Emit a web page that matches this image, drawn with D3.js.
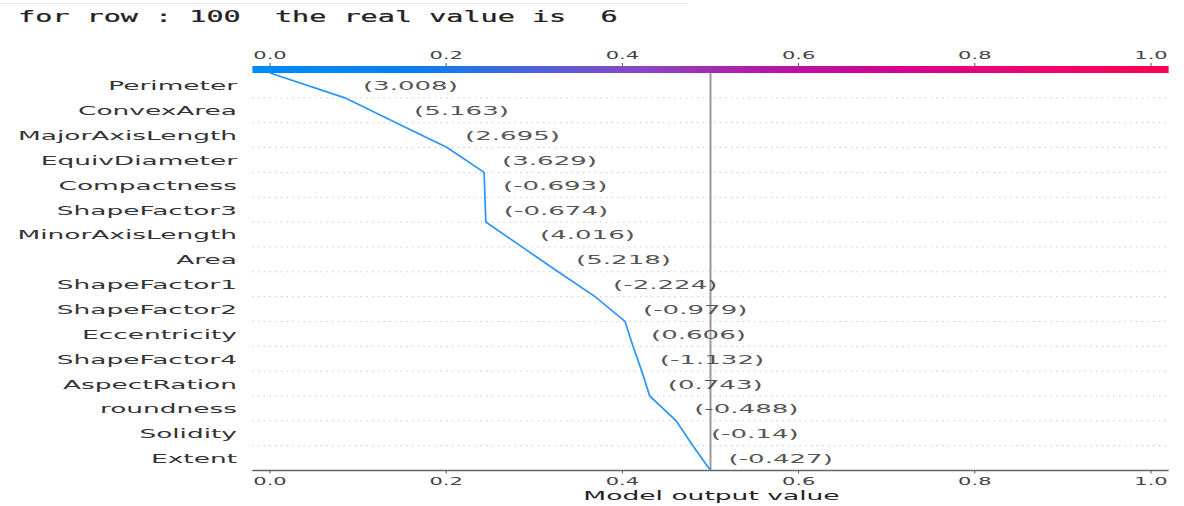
<!DOCTYPE html>
<html lang="en">
<head>
<meta charset="utf-8">
<title>Decision plot</title>
<script src="https://d3js.org/d3.v7.min.js"></script>
<style>
body { margin: 0; background: #fff; }
svg { display: block; }
</style>
</head>
<body>
<svg width="1184" height="506"></svg>
<script>

// features, top row first
var features = ["Perimeter", "ConvexArea", "MajorAxisLength", "EquivDiameter", "Compactness",
  "ShapeFactor3", "MinorAxisLength", "Area", "ShapeFactor1", "ShapeFactor2", "Eccentricity",
  "ShapeFactor4", "AspectRation", "roundness", "Solidity", "Extent"];
var featureValues = ["3.008", "5.163", "2.695", "3.629", "-0.693", "-0.674", "4.016", "5.218",
  "-2.224", "-0.979", "0.606", "-1.132", "0.743", "-0.488", "-0.14", "-0.427"];
// model output along the path, from the base value (bottom) to the prediction (top)
var cumulative = [0.5, 0.480, 0.461, 0.431, 0.422, 0.412, 0.403, 0.369, 0.327, 0.286,
  0.245, 0.244, 0.243, 0.201, 0.143, 0.085, 0.0];
var baseValue = 0.5;
var ticks = [0, 0.2, 0.4, 0.6, 0.8, 1.0];
var rowLabel = 100, realValue = 6;

var SX = 2.0; // picture is stretched horizontally
var svg = d3.select("svg");
var n = features.length;

var x = d3.scaleLinear().domain([0, 1]).range([270, 1151]);
var y = d3.scaleLinear().domain([0, n]).range([470.5, 73]);
var xlo = x(-0.02), xhi = x(1.02);

function stext(g, px, py, str, size, anchor, fill, sx) {
  return g.append("text")
    .attr("transform", "translate(" + px + "," + py + ") scale(" + (sx || SX) + ",1)")
    .attr("text-anchor", anchor)
    .attr("font-family", "DejaVu Sans, sans-serif")
    .attr("font-size", size)
    .attr("fill", fill)
    .text(str);
}

// notebook output line
svg.append("line").attr("x1", 0).attr("x2", 688).attr("y1", 3.5).attr("y2", 3.5)
  .attr("stroke", "#e6e6e6").attr("stroke-width", 1);
svg.append("text")
  .attr("transform", "translate(18,22) scale(1.78,1)")
  .attr("font-family", "DejaVu Sans Mono, monospace")
  .attr("font-size", 16)
  .attr("fill", "#222")
  .attr("stroke", "#222").attr("stroke-width", 0.25)
  .attr("xml:space", "preserve")
  .style("white-space", "pre")
  .text("for row : " + rowLabel + "  the real value is  " + realValue);

// colour bar
var grad = svg.append("defs").append("linearGradient").attr("id", "cb")
  .attr("x1", "0%").attr("x2", "100%");
[[0, "#008bfb"], [0.18, "#0a7ef2"], [0.3, "#4a64dc"], [0.42, "#8748c4"],
 [0.55, "#b11aa8"], [0.7, "#d4008e"], [0.85, "#ee0070"], [1, "#ff0052"]]
  .forEach(function(s) { grad.append("stop").attr("offset", s[0]).attr("stop-color", s[1]); });
svg.append("rect").attr("x", xlo).attr("y", 66).attr("width", xhi - xlo).attr("height", 7)
  .attr("fill", "url(#cb)");

// grid lines
var grid = svg.append("g");
d3.range(1, n).forEach(function(i) {
  grid.append("line").attr("x1", xlo).attr("x2", xhi).attr("y1", y(i)).attr("y2", y(i))
    .attr("stroke", "#c8c8c8").attr("stroke-width", 1).attr("stroke-dasharray", "1.5,4.2");
});

// base value line
svg.append("line").attr("x1", x(baseValue)).attr("x2", x(baseValue))
  .attr("y1", 73).attr("y2", y(0))
  .attr("stroke", "#999").attr("stroke-width", 2);

// top ticks
var topAx = svg.append("g");
ticks.forEach(function(t) {
  topAx.append("line").attr("x1", x(t)).attr("x2", x(t)).attr("y1", 63).attr("y2", 66)
    .attr("stroke", "#555").attr("stroke-width", 1);
  stext(topAx, x(t), 59, d3.format(".1f")(t), 10.5, "middle", "#444");
});

// bottom axis
var bot = svg.append("g");
bot.append("line").attr("x1", xlo).attr("x2", xhi).attr("y1", y(0)).attr("y2", y(0))
  .attr("stroke", "#666").attr("stroke-width", 1.5);
ticks.forEach(function(t) {
  bot.append("line").attr("x1", x(t)).attr("x2", x(t)).attr("y1", y(0)).attr("y2", y(0) + 3)
    .attr("stroke", "#555").attr("stroke-width", 1);
  stext(bot, x(t), 485, d3.format(".1f")(t), 10.5, "middle", "#444");
});
stext(bot, (x(0.4) + x(0.6)) / 2 + 1, 500, "Model output value", 13, "middle", "#222", 2.04);

// feature names and values
var lab = svg.append("g");
features.forEach(function(f, i) {
  var lo = n - 1 - i, hi = n - i;
  var yc = (y(lo) + y(hi)) / 2 + 5;
  stext(lab, 237, yc, f, 13, "end", "#333", 2.03);
  var vx = x(Math.max(cumulative[lo], cumulative[hi])) + 18;
  stext(lab, vx, yc, "(" + featureValues[i] + ")", 12.3, "start", "#555", 2.12);
});

// decision path
var line = d3.line()
  .x(function(d) { return x(d); })
  .y(function(d, i) { return y(i); });
svg.append("path").datum(cumulative)
  .attr("d", line)
  .attr("fill", "none")
  .attr("stroke", "#2a94f8")
  .attr("stroke-width", 1.7);

</script>
</body>
</html>
